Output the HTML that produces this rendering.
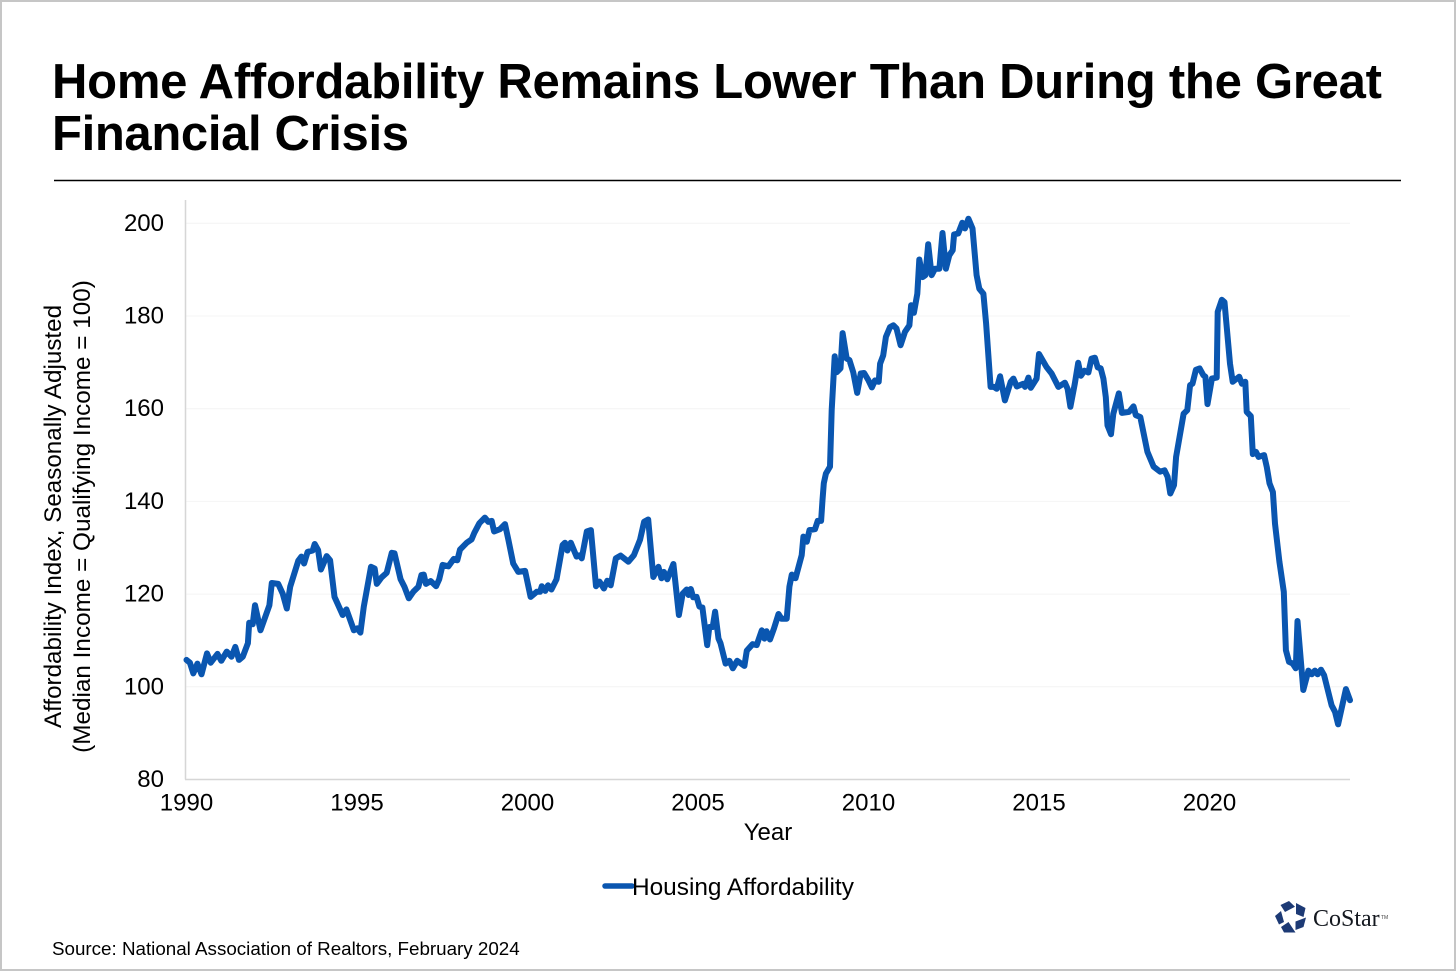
<!DOCTYPE html>
<html lang="en">
<head>
<meta charset="utf-8">
<title>Home Affordability Remains Lower Than During the Great Financial Crisis</title>
<style>
html,body{margin:0;padding:0;background:#fff;}
svg{display:block;font-family:"Liberation Sans",Arial,sans-serif;}
</style>
</head>
<body>
<svg id="chart" xmlns="http://www.w3.org/2000/svg" width="1456" height="971" viewBox="0 0 1456 971">
  <rect x="1" y="1" width="1454" height="969" fill="#fff" stroke="#c6c6c6" stroke-width="2"/>
  <text x="52" y="98" font-size="49" font-weight="700" fill="#000" textLength="1330" lengthAdjust="spacing">Home Affordability Remains Lower Than During the Great</text>
  <text x="52" y="150" font-size="49" font-weight="700" fill="#000" textLength="357" lengthAdjust="spacing">Financial Crisis</text>
  <line x1="54" y1="180.5" x2="1401" y2="180.5" stroke="#000" stroke-width="1.6"/>
  <g id="grid"></g>
  <line x1="185.5" y1="200" x2="185.5" y2="779.5" stroke="#d6d6d6" stroke-width="1.5"/>
  <line x1="185" y1="779.5" x2="1350" y2="779.5" stroke="#d6d6d6" stroke-width="1.5"/>
  <g id="yticks"></g>
  <g id="xticks"></g>
  <path id="series" fill="none" stroke="#0a56b0" stroke-width="6" stroke-linejoin="round" stroke-linecap="round"/>
  <text transform="translate(61,516.5) rotate(-90)" text-anchor="middle" font-size="24.2" fill="#000">Affordability Index, Seasonally Adjusted</text>
  <text transform="translate(90,516.5) rotate(-90)" text-anchor="middle" font-size="24.3" fill="#000">(Median Income = Qualifying Income = 100)</text>
  <text x="768" y="840" text-anchor="middle" font-size="24" fill="#000">Year</text>
  <g>
    <line x1="605" y1="886" x2="632" y2="886" stroke="#0a56b0" stroke-width="5.5" stroke-linecap="round"/>
    <text x="632" y="895" font-size="24.4" fill="#000">Housing Affordability</text>
  </g>
  <g>
    <g fill="#1d3a75">
      <polygon points="1280.5,905 1289,901 1295,906.7 1285,912"/>
      <polygon points="1296,903 1305.5,908 1303.5,917 1296,914"/>
      <polygon points="1295.5,921.5 1306,917.5 1303.5,927 1295.5,930"/>
      <polygon points="1281,927 1288.5,922 1295.5,932.5 1284,932.5"/>
      <polygon points="1275,916 1281,911 1284,922 1279,924.5"/>
    </g>
    <text x="1313" y="926" font-family="'Liberation Serif',serif" font-size="24" fill="#14181f">CoStar</text>
    <text x="1381" y="919" font-size="5" fill="#444">TM</text>
  </g>
  <text x="52" y="955" font-size="18.8" fill="#000">Source: National Association of Realtors, February 2024</text>
</svg>
<script>
const years = [
1990.00,1990.10,1990.20,1990.32,1990.44,1990.60,1990.71,1990.91,1991.02,1991.18,
1991.32,1991.43,1991.54,1991.65,1991.80,1991.84,1991.94,1992.01,1992.17,1992.43,
1992.50,1992.69,1992.82,1992.94,1993.04,1993.28,1993.37,1993.45,1993.55,1993.70,
1993.76,1993.86,1993.94,1994.11,1994.21,1994.34,1994.58,1994.69,1994.91,1995.01,
1995.10,1995.20,1995.41,1995.52,1995.58,1995.72,1995.87,1996.02,1996.10,1996.28,
1996.39,1996.52,1996.65,1996.80,1996.89,1996.96,1997.02,1997.16,1997.32,1997.41,
1997.51,1997.68,1997.84,1997.94,1998.02,1998.22,1998.36,1998.44,1998.59,1998.75,
1998.85,1998.95,1999.02,1999.19,1999.34,1999.44,1999.58,1999.73,1999.93,2000.09,
2000.27,2000.37,2000.42,2000.52,2000.60,2000.70,2000.85,2001.03,2001.10,2001.17,
2001.27,2001.44,2001.54,2001.59,2001.74,2001.86,2002.01,2002.11,2002.24,2002.34,
2002.44,2002.59,2002.73,2002.96,2003.12,2003.30,2003.42,2003.54,2003.69,2003.84,
2003.93,2004.00,2004.10,2004.28,2004.44,2004.55,2004.67,2004.72,2004.79,2004.86,
2004.96,2005.04,2005.13,2005.27,2005.33,2005.43,2005.50,2005.60,2005.66,2005.81,
2005.92,2006.02,2006.15,2006.36,2006.43,2006.60,2006.72,2006.87,2006.95,2007.01,
2007.11,2007.23,2007.36,2007.45,2007.60,2007.68,2007.75,2007.86,2008.04,2008.09,
2008.19,2008.27,2008.43,2008.51,2008.61,2008.65,2008.69,2008.75,2008.87,2008.92,
2009.01,2009.07,2009.18,2009.24,2009.36,2009.44,2009.55,2009.67,2009.77,2009.87,
2010.00,2010.10,2010.19,2010.30,2010.34,2010.43,2010.51,2010.63,2010.73,2010.82,
2010.94,2011.07,2011.20,2011.25,2011.33,2011.43,2011.49,2011.59,2011.67,2011.75,
2011.85,2011.95,2012.08,2012.17,2012.27,2012.37,2012.47,2012.51,2012.63,2012.75,
2012.83,2012.93,2013.05,2013.17,2013.25,2013.37,2013.45,2013.58,2013.68,2013.76,
2013.86,2014.00,2014.17,2014.25,2014.35,2014.54,2014.59,2014.69,2014.76,2014.93,
2015.00,2015.22,2015.37,2015.57,2015.76,2015.84,2015.92,2016.05,2016.15,2016.23,
2016.33,2016.45,2016.54,2016.64,2016.72,2016.81,2016.89,2016.96,2017.01,2017.11,
2017.18,2017.34,2017.43,2017.64,2017.77,2017.84,2017.97,2018.18,2018.36,2018.55,
2018.68,2018.77,2018.85,2018.96,2019.02,2019.24,2019.35,2019.43,2019.50,2019.60,
2019.71,2019.82,2019.88,2019.94,2020.07,2020.21,2020.24,2020.36,2020.44,2020.60,
2020.68,2020.87,2020.95,2021.05,2021.09,2021.21,2021.27,2021.36,2021.44,2021.60,
2021.68,2021.76,2021.86,2021.92,2022.05,2022.18,2022.24,2022.33,2022.44,2022.53,
2022.58,2022.75,2022.90,2023.00,2023.09,2023.17,2023.27,2023.36,2023.58,2023.68,
2023.77,2024.00,2024.12
];
const affordability = [
105.8,105.2,102.9,105,102.7,107.2,105.2,107.1,105.6,107.6,
106.5,108.6,105.8,106.5,109.4,113.8,113.5,117.6,112.2,117.6,
122.4,122.2,120.1,116.9,121.6,127.2,128.1,126.6,129.1,129.4,
130.8,129.5,125.3,128.2,127.3,119.4,115.5,116.7,112.2,112.6,
111.7,117.3,125.9,125.5,122.2,123.6,124.6,128.9,128.8,123.2,
121.6,119.1,120.5,121.6,124.1,124.2,122.2,122.8,121.7,123.2,
126.3,126,127.6,127.3,129.6,131.1,131.8,133.2,135.3,136.5,
135.6,135.8,133.5,134,135.1,131.7,126.6,124.8,125,119.4,
120.5,120.5,121.7,120.7,121.9,121,123.2,130.6,131.1,129.4,
131.1,128.1,128.4,127.7,133.5,133.8,121.7,122.7,121.2,122.9,
121.9,127.7,128.3,127,128.4,131.7,135.6,136.1,123.7,125.9,
123.4,124.8,123.2,126.5,115.5,120.1,121,119.8,121.1,119.3,
119.4,117.3,117.1,109,112.9,112.9,116.2,110.4,109.4,105,
105.6,104,105.6,104.5,107.8,109.2,109,112.2,110.4,112,
110.2,112.6,115.7,114.7,114.7,121.6,124.2,123.4,128.4,132.4,
131.3,133.8,134,135.8,135.8,140.3,143.9,146,147.5,159.7,
171.3,167.9,168.7,176.3,170.8,170.5,167.9,163.4,167.6,167.7,
166.1,164.6,166.1,165.8,169.7,171.5,175.5,177.6,178,177.3,
173.7,176.6,178,182.3,180.7,184.8,192.2,188.4,188.8,195.5,
188.8,190.2,190.2,197.9,190.2,193.1,194.2,197.6,197.8,200.1,
198.9,201,198.9,188.8,185.9,184.8,178.4,164.7,164.7,164.3,
167,161.8,165.8,166.5,164.8,165.4,164.7,166.7,164.5,166.5,
171.8,169,167.6,164.7,165.6,164.3,160.4,165.4,169.9,167.1,
168.2,167.8,170.8,171,168.9,168.7,166.5,162.5,156.4,154.5,
158.9,163.3,159.1,159.3,160.5,158.6,158.2,150.7,147.5,146.4,
146.7,145.3,141.7,143.5,149.6,158.9,159.7,165.1,165.4,168.4,
168.7,167.2,166.9,161,166.5,166.7,180.9,183.5,183,169.7,
165.8,166.9,165.4,165.8,159.3,158.4,150.2,150.7,149.6,150,
147.4,143.9,142,135.2,127,120.5,107.9,105.4,105,104,
114.2,99.3,103.5,102.7,103.5,102.7,103.7,102.5,96,94.6,
91.9,99.5,97.1
];
const xTickLabels = [1990,1995,2000,2005,2010,2015,2020];
const yTickLabels = [80,100,120,140,160,180,200];

const SVG_NS = 'http://www.w3.org/2000/svg';
function xScale(year){ return 186.5 + (year - 1990) * 34.1; }
function yScale(value){ return 779.5 - (value - 80) * 4.635; }

const gridGroup = document.getElementById('grid');
const yTickGroup = document.getElementById('yticks');
const xTickGroup = document.getElementById('xticks');

yTickLabels.forEach(function(tick){
  if (tick !== 80) {
    const gridLine = document.createElementNS(SVG_NS, 'line');
    
    
    gridLine.setAttribute('x1', 186);
    gridLine.setAttribute('x2', 1350);
    gridLine.setAttribute('y1', yScale(tick));
    gridLine.setAttribute('y2', yScale(tick));
    gridLine.setAttribute('stroke', '#f4f4f4');
    gridLine.setAttribute('stroke-width', 1);
    gridGroup.appendChild(gridLine);
  }
  const yLabel = document.createElementNS(SVG_NS, 'text');
  
  
  yLabel.setAttribute('x', 164);
  yLabel.setAttribute('y', yScale(tick) + 7.5);
  yLabel.setAttribute('text-anchor', 'end');
  yLabel.setAttribute('font-size', 24);
  yLabel.textContent = tick;
  yTickGroup.appendChild(yLabel);
});

xTickLabels.forEach(function(tick){
  const xLabel = document.createElementNS(SVG_NS, 'text');
  
  
  xLabel.setAttribute('x', xScale(tick));
  xLabel.setAttribute('y', 810.5);
  xLabel.setAttribute('text-anchor', 'middle');
  xLabel.setAttribute('font-size', 24);
  xLabel.textContent = tick;
  xTickGroup.appendChild(xLabel);
});

document.getElementById('series').setAttribute('d', years.map(function(year, i){
  return (i ? 'L' : 'M') + xScale(year).toFixed(1) + ' ' + yScale(affordability[i]).toFixed(1);
}).join(' '));
</script>
</body>
</html>
